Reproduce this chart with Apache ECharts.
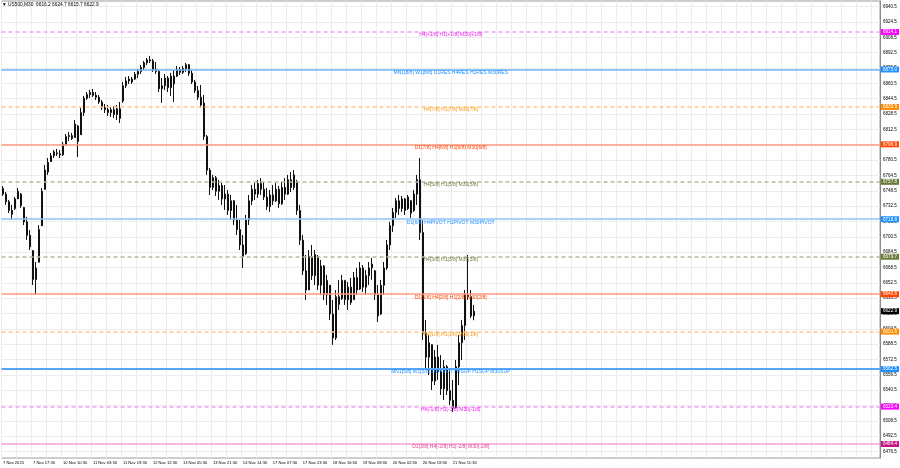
<!DOCTYPE html>
<html><head><meta charset="utf-8">
<script src="https://cdn.jsdelivr.net/npm/echarts@6/dist/echarts.min.js"></script>
<style>html,body{margin:0;padding:0;background:#fff}#c{width:900px;height:468px}</style>
</head><body><div id="c"></div>
<script>
// ---- data ----
const symbolName = 'US500,M30';
const lastBar = [6616.2, 6624.7, 6615.7, 6622.9]; // O H L C
const currentPrice = 6622.9;
const timeLabels = ['7 Nov 2025','7 Nov 17:30','10 Nov 10:30','11 Nov 03:30','11 Nov 19:30','12 Nov 12:30',
  '13 Nov 05:30','13 Nov 21:30','14 Nov 14:30','17 Nov 07:30','17 Nov 23:30','18 Nov 16:30',
  '19 Nov 09:30','20 Nov 02:30','20 Nov 18:30','21 Nov 11:30'];
const priceTicks = [6476.5,6492.5,6508.5,6524.5,6540.5,6556.5,6572.5,6588.5,6604.5,6620.5,6636.5,6652.5,
  6668.5,6684.5,6700.5,6716.5,6732.5,6748.5,6764.5,6780.5,6796.5,6812.5,6828.5,6844.5,6860.5,6876.5,
  6892.5,6908.5,6924.5,6940.5];
// [open, close, low, high]
const bars = [
[6751,6745,6743.1,6753.5],[6745,6737,6733.7,6747.2],[6737,6728,6725.3,6738.9],[6728,6724,6718.0,6733.7],
[6730,6740,6728.5,6742.0],[6740,6748,6741.0,6751.4],[6745,6733,6730.6,6746.2],[6731,6716,6712.8,6731.6],
[6716,6702,6697.2,6721.2],[6702,6690,6686.7,6707.6],[6686,6656,6650.2,6686.7],[6656,6668,6639.8,6674.2],
[6674,6708,6674.2,6712.8],[6712,6748,6712.8,6751.4],[6750,6770,6749.3,6775.4],[6768,6778,6765.0,6782.7],
[6779,6785,6778.5,6787.9],[6785,6789,6782.7,6791.0],[6788,6787,6784.8,6792.1],[6787,6786,6782.7,6791.0],
[6786,6797,6784.8,6799.4],[6797,6805,6795.2,6807.7],[6805,6806,6800.4,6809.8],[6806,6803,6801.5,6808.8],
[6804,6818,6803.6,6822.3],[6816,6800,6783.7,6817.1],[6807,6830,6806.7,6834.9],[6830,6845,6826.5,6847.4],
[6845,6849,6843.2,6851.5],[6849,6851,6845.3,6853.6],[6851,6848,6846.3,6854.7],[6848,6846,6843.2,6851.5],
[6846,6841,6839.0,6848.4],[6841,6835,6832.8,6843.2],[6835,6833,6829.6,6839.0],[6833,6830,6826.5,6838.0],
[6830,6833,6825.5,6835.9],[6833,6828,6824.4,6836.9],[6828,6834,6822.3,6838.0],[6834,6824,6819.2,6841.1],
[6842,6858,6840.1,6862.0],[6858,6863,6855.7,6867.2],[6863,6865,6859.9,6868.2],[6865,6862,6859.9,6867.2],
[6865,6870,6864.1,6872.4],[6870,6873,6866.1,6875.5],[6873,6877,6870.3,6879.7],[6877,6882,6874.5,6883.9],
[6882,6885,6879.7,6887.0],[6885,6884,6881.8,6889.1],[6884,6875,6872.4,6886.0],[6875,6873,6870.3,6882.8],
[6873,6855,6851.5,6874.5],[6855,6858,6840.1,6866.1],[6858,6866,6853.6,6870.3],[6866,6856,6851.5,6868.2],
[6856,6868,6847.4,6871.4],[6868,6860,6841.1,6874.5],[6868,6875,6867.2,6878.7],[6875,6872,6869.3,6877.6],
[6872,6876,6870.3,6878.7],[6876,6880,6872.4,6881.8],[6880,6871,6868.2,6880.7],[6871,6862,6859.9,6874.5],
[6862,6853,6850.5,6864.1],[6853,6846,6843.2,6857.8],[6846,6838,6834.9,6858.8],[6840,6805,6801.5,6848.4],
[6805,6770,6765.0,6806.7],[6770,6752,6744.1,6772.3],[6752,6762,6749.3,6765.0],[6762,6748,6743.1,6763.9],
[6748,6754,6738.9,6759.8],[6754,6740,6733.7,6756.6],[6740,6745,6728.5,6754.5],[6745,6728,6723.3,6749.3],
[6728,6738,6718.0,6744.1],[6738,6718,6712.8,6738.9],[6718,6708,6702.4,6733.7],[6708,6692,6686.7,6718.0],
[6692,6680,6668.0,6702.4],[6683,6718,6681.5,6723.3],[6718,6738,6712.8,6744.1],[6738,6750,6733.7,6754.5],
[6750,6745,6738.9,6756.6],[6745,6756,6741.0,6759.8],[6756,6750,6744.1,6761.8],[6750,6742,6738.9,6757.7],
[6742,6732,6728.5,6751.4],[6732,6744,6726.4,6749.3],[6744,6738,6733.7,6754.5],[6738,6750,6736.8,6756.6],
[6750,6735,6730.6,6753.5],[6735,6752,6733.7,6757.7],[6752,6745,6738.9,6761.8],[6745,6760,6744.1,6765.0],
[6760,6752,6747.2,6768.1],[6752,6765,6749.3,6770.2],[6758,6728,6723.3,6759.8],[6728,6697,6692.0,6733.7],
[6697,6665,6660.7,6702.4],[6665,6645,6634.6,6681.5],[6645,6680,6645.0,6686.7],[6680,6660,6655.5,6692.0],
[6660,6682,6650.2,6686.7],[6680,6650,6645.0,6681.5],[6650,6670,6639.8,6676.3],[6670,6640,6634.6,6671.1],
[6640,6655,6629.4,6660.7],[6650,6620,6613.7,6650.2],[6620,6595,6587.7,6634.6],[6595,6638,6592.9,6645.0],
[6638,6630,6624.2,6655.5],[6636,6655,6634.6,6660.7],[6655,6635,6629.4,6655.5],[6635,6648,6624.2,6653.4],
[6648,6632,6629.4,6657.5],[6635,6658,6634.6,6663.8],[6658,6645,6639.8,6668.0],[6646,6668,6645.0,6674.2],
[6668,6648,6642.9,6671.1],[6648,6660,6639.8,6665.9],[6660,6668,6650.2,6674.2],[6668,6672,6655.5,6678.4],
[6665,6640,6634.6,6665.9],[6640,6618,6611.7,6650.2],[6620,6650,6619.0,6655.5],[6650,6668,6639.8,6674.2],
[6668,6692,6665.9,6697.2],[6692,6712,6686.7,6716.0],[6712,6726,6705.5,6730.6],[6726,6738,6720.1,6741.0],
[6738,6730,6723.3,6744.1],[6730,6740,6726.4,6743.1],[6740,6728,6723.3,6741.0],[6730,6742,6728.5,6744.1],
[6738,6725,6720.1,6738.9],[6728,6745,6726.4,6749.3],[6745,6760,6733.7,6765.0],[6760,6705,6697.2,6782.7],
[6705,6600,6592.9,6718.0],[6600,6575,6561.6,6613.7],[6575,6590,6556.4,6598.1],[6588,6550,6540.7,6587.7],
[6550,6575,6545.9,6582.4],[6575,6560,6551.2,6587.7],[6560,6542,6535.5,6577.2],[6542,6565,6530.3,6572.0],
[6565,6540,6535.5,6566.8],[6540,6530,6525.1,6561.6],[6530,6522,6517.8,6551.2],[6522,6565,6522.0,6572.0],
[6565,6590,6545.9,6598.1],[6590,6608,6572.0,6613.7],[6608,6640,6592.9,6645.0],[6640,6638,6634.6,6681.5],
[6638,6618,6615.8,6645.0],[6618,6622.9,6613.5,6629.4]
];
const levelValues = [6914.1, 6875.0, 6835.9, 6796.9, 6757.8, 6718.8, 6679.7, 6640.6, 6601.6, 6562.5, 6523.4, 6484.4];
const levelTexts = [
  'H4[+1/8] H1[+1/8] M30[+1/8]',
  'MN1[8/8] W1[8/8] D1RES H4RES H1RES M30RES',
  'H4[7/8] H1[7/8] M30[7/8]',
  'D1[7/8] H4[6/8] H1[6/8] M30[6/8]',
  'H4[5/8] H1[5/8] M30[5/8]',
  'D1[6/8] H4PIVOT H1PIVOT M30PIVOT',
  'H4[3/8] H1[3/8] M30[3/8]',
  'D1[5/8] H4[2/8] H1[2/8] M30[2/8]',
  'H4[1/8] H1[1/8] M30[1/8]',
  'MN1[5/8] W1[5/8] D1PIVOT H4SUP H1SUP M30SUP',
  'H4[-1/8] H1[-1/8] M30[-1/8]',
  'D1[3/8] H4[-2/8] H1[-2/8] M30[-2/8]'
];

// ---- styles ----
const DASH = [4, 3];
const levelStyles = [
  {line:'#f4a0f4', tag:'#ff00ff', text:'#f020f0', type:DASH, w:1.5},
  {line:'#6fb2f6', tag:'#1e90ff', text:'#1e90ff', type:'solid', w:1.5},
  {line:'#ffc88a', tag:'#ff8c00', text:'#ff9a1a', type:DASH, w:1.5},
  {line:'#ff9a80', tag:'#ff4500', text:'#ff4500', type:'solid', w:1.5},
  {line:'#b8b8a0', tag:'#6b7b3a', text:'#707a40', type:DASH, w:1.5},
  {line:'#8cc2f8', tag:'#1e90ff', text:'#1e90ff', type:'solid', w:1.5},
  {line:'#b8b8a0', tag:'#6b7b3a', text:'#707a40', type:DASH, w:1.5},
  {line:'#ff9a80', tag:'#ff4500', text:'#ff4500', type:'solid', w:1.5},
  {line:'#ffc88a', tag:'#ff8c00', text:'#ff9a1a', type:DASH, w:1.5},
  {line:'#55a6f8', tag:'#1e90ff', text:'#1e90ff', type:'solid', w:2},
  {line:'#f4a0f4', tag:'#ff00ff', text:'#f020f0', type:DASH, w:1.5},
  {line:'#f4a0d4', tag:'#c71585', text:'#e0409a', type:'solid', w:1.5}
];
const FONT = 'Liberation Sans, Arial, DejaVu Sans, sans-serif';
const slots = 293;
const categories = Array.from({length: slots}, (_, i) => 'b' + i);
const CLEAR = 'rgba(0,0,0,0)';

const lineData = [];
const textData = [];
levelValues.forEach((v, i) => {
  const s = levelStyles[i];
  lineData.push({
    yAxis: v,
    lineStyle: {color: s.line, type: s.type, width: s.w, opacity: 1},
    label: {show: true, position: 'end', distance: 1, formatter: v.toFixed(1),
      backgroundColor: s.tag, color: '#fff', fontSize: 4.6, fontFamily: FONT, padding: [1, 2, 0, 2]}
  });
  textData.push({
    yAxis: v,
    lineStyle: {color: CLEAR, width: 1},
    label: {show: true, position: 'insideMiddleBottom', distance: 0.5, formatter: levelTexts[i],
      color: s.text, fontSize: 5, fontFamily: FONT, padding: [0, 0, 0, 20]}
  });
});
textData.push({
  yAxis: currentPrice,
  lineStyle: {color: CLEAR, width: 1},
  label: {show: true, position: 'end', distance: 1, formatter: currentPrice.toFixed(1),
    backgroundColor: '#000', color: '#fff', fontSize: 4.6, fontFamily: FONT, padding: [1, 2, 0, 2]}
});

const chart = echarts.init(document.getElementById('c'), null, {renderer: 'canvas'});
chart.setOption({
  animation: false,
  backgroundColor: '#fff',
  title: {
    text: '\u25BC ' + symbolName + '  ' + lastBar.map(v => v.toFixed(1)).join(' '),
    left: 2, top: 2, padding: 0,
    textStyle: {fontSize: 4.8, fontWeight: 'normal', color: '#000', fontFamily: FONT}
  },
  grid: {left: 1, right: 20, top: 1, bottom: 10, show: true, borderColor: '#9a9a9a', borderWidth: 1},
  xAxis: {
    type: 'category', data: categories, boundaryGap: true,
    axisLine: {show: false}, axisTick: {show: false},
    axisLabel: {
      interval: (idx) => idx % 10 === 0 && idx / 10 < timeLabels.length,
      formatter: (val, idx) => timeLabels[idx / 10] || '',
      fontSize: 4.1, color: '#000', fontFamily: FONT, align: 'left', margin: 3
    },
    splitLine: {show: true, interval: 4, lineStyle: {color: '#ececec', width: 1}}
  },
  yAxis: {
    type: 'value', position: 'right', min: 6469.8, max: 6946.4,
    axisLine: {show: true, lineStyle: {color: '#8a8a8a'}},
    axisTick: {show: false, customValues: priceTicks},
    axisLabel: {customValues: priceTicks, formatter: v => v.toFixed(1), fontSize: 4.5,
      color: '#000', fontFamily: FONT, margin: 3},
    splitLine: {show: true, lineStyle: {color: '#ececec', width: 1}}
  },
  series: [{
    type: 'candlestick',
    name: 'price',
    data: bars,
    barWidth: 1.6,
    z: 3,
    itemStyle: {color: '#111', color0: '#111', borderColor: '#111', borderColor0: '#111', borderWidth: 1},
    markLine: {silent: true, symbol: 'none', animation: false, precision: 1, data: lineData}
  }, {
    type: 'line',
    name: 'levels',
    data: [],
    z: 4,
    markLine: {silent: true, symbol: 'none', animation: false, precision: 1, data: textData}
  }]
});
</script>
</body></html>
